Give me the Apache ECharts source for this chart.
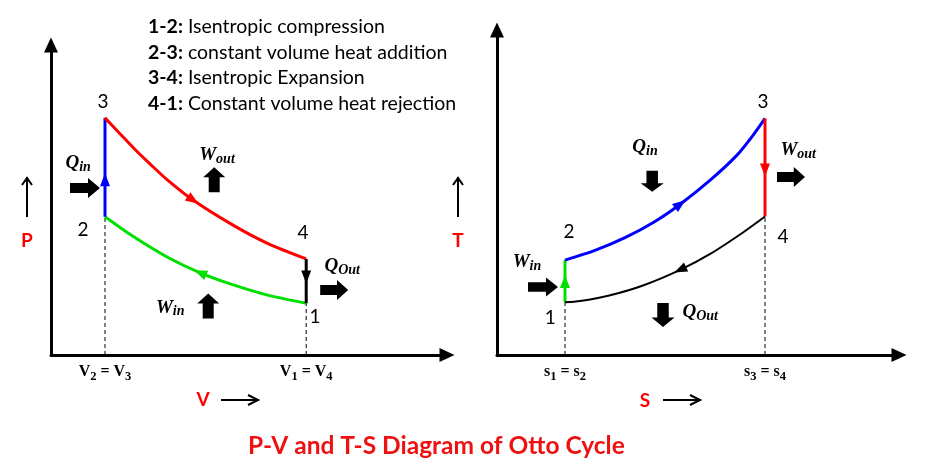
<!DOCTYPE html>
<html><head><meta charset="utf-8">
<script src="https://cdn.jsdelivr.net/npm/echarts@6/dist/echarts.min.js"></script>
<style>html,body{margin:0;padding:0;background:#fff}#c{width:926px;height:475px}</style>
</head><body><div id="c"></div>
<script>
// ================= DATA (arbitrary units) =================
// P-V diagram: [V, P]
const pvProcess12 = [[6.38,1.67],[5.39,1.94],[4.56,2.26],[3.73,2.65],[2.89,3.17],[2.06,3.82],[1.35,4.46]];
const pvProcess23 = [[1.35,4.46],[1.35,7.65]];
const pvProcess34 = [[1.35,7.65],[1.73,7.13],[2.10,6.63],[2.48,6.16],[2.90,5.66],[3.55,5.00],[4.55,4.19],[5.40,3.61],[6.38,3.10]];
const pvProcess41 = [[6.38,3.10],[6.38,1.67]];
const pvTicks = [1.35, 6.38];
const pvTickLabels = ['V_2 = V_3', 'V_1 = V_4'];

// T-S diagram: [s, T]
const tsProcess12 = [[1.70,1.62],[1.70,2.92]];
const tsProcess23 = [[1.70,2.92],[2.45,3.22],[3.20,3.61],[3.95,4.11],[4.58,4.64],[5.33,5.38],[6.00,6.15],[6.40,6.76],[6.70,7.28]];
const tsProcess34 = [[6.70,7.28],[6.70,4.26]];
const tsProcess41 = [[6.70,4.26],[6.15,3.77],[5.33,3.11],[4.58,2.62],[3.65,2.14],[2.83,1.84],[2.08,1.66],[1.70,1.62]];
const tsTicks = [1.70, 6.70];
const tsTickLabels = ['s_1 = s_2', 's_3 = s_4'];

const processKeys = ['1-2:', '2-3:', '3-4:', '4-1:'];
const processNames = ['Isentropic compression', 'constant volume heat addition', 'Isentropic Expansion', 'Constant volume heat rejection'];
const chartTitle = 'P-V and T-S Diagram of Otto Cycle';

// ================= STYLE / ANNOTATION PLACEMENT =================
const BLUE = '#0000ff', RED = '#ff0000', GREEN = '#00e000', BLACK = '#000000';
const SERIF = '"Liberation Serif", "DejaVu Serif", serif';
const SANS = 'Lato, "Open Sans", sans-serif';

// flow arrows on the paths (data position on path)
const flowArrows = [
  {g:0, path:pvProcess23, at:[1.35,5.65], color:BLUE},
  {g:0, path:pvProcess34, at:[3.55,5.00], color:RED},
  {g:0, path:pvProcess12, at:[3.73,2.65], color:GREEN},
  {g:0, path:pvProcess41, at:[6.38,2.52], color:BLACK},
  {g:1, path:tsProcess12, at:[1.70,2.26], color:GREEN},
  {g:1, path:tsProcess23, at:[4.58,4.64], color:BLUE},
  {g:1, path:tsProcess34, at:[6.70,5.69], color:RED},
  {g:1, path:tsProcess41, at:[4.58,2.62], color:BLACK}
];
// energy block arrows
const blockArrows = [
  {g:0, at:[0.85,5.39], dir:'right', size:[30,20]},
  {g:0, at:[4.08,5.65], dir:'up', size:[25,22]},
  {g:0, at:[3.93,1.58], dir:'up', size:[25,22]},
  {g:0, at:[7.08,2.10], dir:'right', size:[28,20]},
  {g:1, at:[3.88,5.35], dir:'down', size:[21,23]},
  {g:1, at:[7.35,5.48], dir:'right', size:[28,20]},
  {g:1, at:[1.15,2.09], dir:'right', size:[30,19]},
  {g:1, at:[4.15,1.23], dir:'down', size:[24,23]}
];
const energyLabels = [
  {g:0, at:[0.68,6.19], t:'Q_in'},
  {g:0, at:[4.15,6.45], t:'W_out'},
  {g:0, at:[2.98,1.52], t:'W_in'},
  {g:0, at:[7.28,2.87], t:'Q_Out'},
  {g:1, at:[3.70,6.40], t:'Q_in'},
  {g:1, at:[7.53,6.31], t:'W_out'},
  {g:1, at:[0.75,2.86], t:'W_in'},
  {g:1, at:[5.08,1.32], t:'Q_Out'}
];
const stateLabels = [
  {g:0, at:[1.30,8.16], t:'3'}, {g:0, at:[0.80,4.03], t:'2'},
  {g:0, at:[6.30,3.94], t:'4'}, {g:0, at:[6.60,1.23], t:'1'},
  {g:1, at:[6.65,7.78], t:'3'}, {g:1, at:[1.80,3.78], t:'2'},
  {g:1, at:[7.15,3.63], t:'4'}, {g:1, at:[1.33,1.14], t:'1'}
];

function subRich(t, m, s) {
  return t.split(/(_\w+)/).filter(p => p).map(p => p[0] === '_' ? '{' + s + '|' + p.slice(1) + '}' : '{' + m + '|' + p + '}').join('');
}

const chart = echarts.init(document.getElementById('c'));

function axis(g, max, ticks, labels) {
  return {
    type: 'value', gridIndex: g, min: 0, max: max,
    axisLine: {show: true, onZero: false, lineStyle: {color: '#000', width: 3}, symbol: ['none', 'triangle'], symbolSize: [14, 15]},
    axisTick: {show: false}, splitLine: {show: false},
    axisLabel: ticks ? {
      show: true, customValues: ticks, margin: 6, showMinLabel: true, showMaxLabel: true,
      formatter: v => { const i = ticks.indexOf(v); return i >= 0 ? subRich(labels[i], 'm', 's') : ''; },
      rich: {
        m: {fontFamily: SERIF, fontWeight: 'bold', fontSize: 16, lineHeight: 22, color: '#000'},
        s: {fontFamily: SERIF, fontWeight: 'bold', fontSize: 12.5, lineHeight: 12, verticalAlign: 'bottom', color: '#000'}
      }
    } : {show: false}
  };
}

function lineSeries(g, data, color, width, dashed, smooth) {
  return {type: 'line', xAxisIndex: g, yAxisIndex: g, data: data, symbol: 'none', smooth: smooth || false,
    lineStyle: {color: color, width: width, type: dashed ? [4, 3] : 'solid', opacity: 1}, silent: true, z: dashed ? 1 : 3};
}

function guides(g, ticks, tops) {
  return ticks.map((v, i) => lineSeries(g, [[v, 0], [v, tops[i]]], '#000', 1, true));
}

const BLOCK = 'path://M0,5L18,5L18,0L30,10L18,20L18,15L0,15Z';
const blockRot = {right: 0, up: 90, down: -90};

function buildOption(rotations) {
  const series = [];
  series.push(...guides(0, pvTicks, [pvProcess23[0][1], pvProcess41[1][1]]));
  series.push(...guides(1, tsTicks, [tsProcess12[0][1], tsProcess34[1][1]]));
  series.push(lineSeries(0, pvProcess12, GREEN, 3, false, 0.3));
  series.push(lineSeries(0, pvProcess23, BLUE, 3));
  series.push(lineSeries(0, pvProcess34, RED, 3, false, 0.3));
  series.push(lineSeries(0, pvProcess41, BLACK, 3));
  series.push(lineSeries(1, tsProcess12, GREEN, 3));
  series.push(lineSeries(1, tsProcess23, BLUE, 3, false, 0.25));
  series.push(lineSeries(1, tsProcess34, RED, 3));
  series.push(lineSeries(1, tsProcess41, BLACK, 2, false, 0.3));
  [0, 1].forEach(g => {
    series.push({type: 'scatter', xAxisIndex: g, yAxisIndex: g, silent: true, z: 5,
      symbol: 'triangle', symbolSize: [10, 13],
      data: flowArrows.map((a, i) => ({a, i})).filter(o => o.a.g === g).map(o => ({
        value: o.a.at, symbolRotate: rotations[o.i] || 0, itemStyle: {color: o.a.color, opacity: 1}}))});
    series.push({type: 'scatter', xAxisIndex: g, yAxisIndex: g, silent: true, z: 5, symbol: BLOCK,
      itemStyle: {color: '#000', opacity: 1},
      data: blockArrows.filter(b => b.g === g).map(b => ({value: b.at, symbolSize: b.size, symbolRotate: blockRot[b.dir]}))});
    series.push({type: 'scatter', xAxisIndex: g, yAxisIndex: g, silent: true, z: 6, symbolSize: 1,
      itemStyle: {color: 'rgba(0,0,0,0)', opacity: 1},
      label: {show: true, position: 'inside', opacity: 1, formatter: p => subRich(p.name, 'm', 's'),
        rich: {
          m: {fontFamily: SERIF, fontWeight: 'bold', fontStyle: 'italic', fontSize: 19, lineHeight: 22, color: '#000'},
          s: {fontFamily: SERIF, fontWeight: 'bold', fontStyle: 'italic', fontSize: 14, lineHeight: 13, verticalAlign: 'bottom', color: '#000'}
        }},
      data: energyLabels.filter(e => e.g === g).map(e => ({name: e.t, value: e.at}))});
    series.push({type: 'scatter', xAxisIndex: g, yAxisIndex: g, silent: true, z: 6, symbolSize: 1,
      itemStyle: {color: 'rgba(0,0,0,0)', opacity: 1},
      label: {show: true, position: 'inside', opacity: 1, formatter: p => p.name, fontFamily: SANS, fontSize: 19, color: '#000'},
      data: stateLabels.filter(e => e.g === g).map(e => ({name: e.t, value: e.at}))});
  });

  const legendTexts = processKeys.map((k, i) => ({
    type: 'text', x: 148, y: 27 + i * 25.6,
    style: {text: '{b|' + k + '}{n| ' + processNames[i] + '}', align: 'left', verticalAlign: 'middle', textAlign: 'left', textVerticalAlign: 'middle',
      rich: {b: {fontFamily: SANS, fontWeight: 'bold', fontSize: 19.5, fill: '#000'}, n: {fontFamily: SANS, fontSize: 19.5, fill: '#000'}}}
  }));

  function upArrow(x, y1, y2) {
    return [
      {type: 'line', shape: {x1: x, y1: y2, x2: x, y2: y1}, style: {stroke: '#000', lineWidth: 2}},
      {type: 'polyline', shape: {points: [[x - 5, y1 + 8], [x, y1 + 1], [x + 5, y1 + 8]]}, style: {stroke: '#000', lineWidth: 2, fill: null}}
    ];
  }
  function rightArrow(x1, x2, y) {
    return [
      {type: 'line', shape: {x1: x1, y1: y, x2: x2, y2: y}, style: {stroke: '#000', lineWidth: 2}},
      {type: 'polyline', shape: {points: [[x2 - 11, y - 5], [x2 - 1, y], [x2 - 11, y + 5]]}, style: {stroke: '#000', lineWidth: 2, fill: null}}
    ];
  }
  function axisName(t, x, y) {
    return {type: 'text', x: x, y: y, style: {text: t, fill: RED, font: 'bold 19px ' + SANS, align: 'center', verticalAlign: 'middle', textAlign: 'center', textVerticalAlign: 'middle'}};
  }

  return {
    animation: false,
    backgroundColor: '#fff',
    grid: [{left: 51, top: 45, width: 396, height: 310}, {left: 497, top: 30, width: 402, height: 325}],
    xAxis: [axis(0, 9.9, pvTicks, pvTickLabels), axis(1, 10.05, tsTicks, tsTickLabels)],
    yAxis: [axis(0, 10), axis(1, 10)],
    series: series,
    graphic: [
      ...legendTexts,
      axisName('P', 27, 241), ...upArrow(27, 177, 217),
      axisName('T', 458, 241), ...upArrow(458, 177, 217),
      axisName('V', 203, 400), ...rightArrow(221, 259, 400),
      axisName('S', 645, 401), ...rightArrow(663, 701, 400),
      {type: 'text', x: 248, y: 446, style: {text: chartTitle, fill: '#ee1111', font: 'bold 24.5px ' + SANS, align: 'left', verticalAlign: 'middle', textAlign: 'left', textVerticalAlign: 'middle'}}
    ]
  };
}

chart.setOption(buildOption([]));
// compute arrow rotations in pixel space along each path
const rotations = flowArrows.map(a => {
  let best = 0, bd = Infinity;
  a.path.forEach((p, i) => { const d = Math.hypot(p[0] - a.at[0], p[1] - a.at[1]); if (d < bd) { bd = d; best = i; } });
  const p0 = a.path[Math.max(best - 1, 0)], p1 = a.path[Math.min(best + 1, a.path.length - 1)];
  const q0 = chart.convertToPixel({gridIndex: a.g}, p0), q1 = chart.convertToPixel({gridIndex: a.g}, p1);
  const dx = q1[0] - q0[0], dy = q1[1] - q0[1];
  return Math.atan2(-dx, -dy) * 180 / Math.PI;
});
chart.setOption(buildOption(rotations), true);
</script>
</body></html>
